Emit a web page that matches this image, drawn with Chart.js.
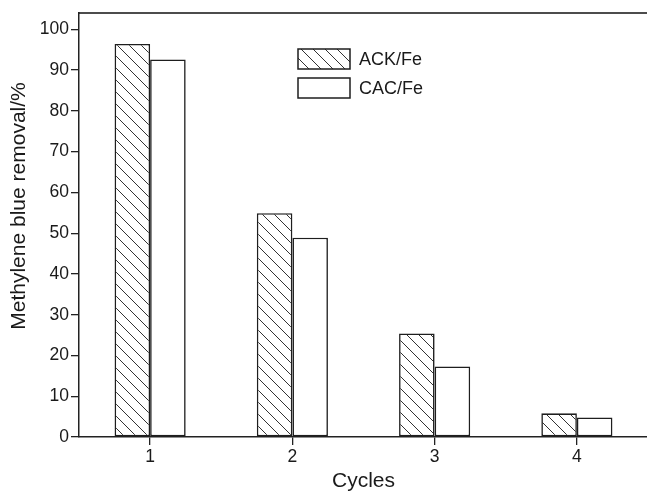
<!DOCTYPE html>
<html>
<head>
<meta charset="utf-8">
<script src="https://cdn.jsdelivr.net/npm/chart.js@4.4.0/dist/chart.umd.min.js"></script>
<style>
  html, body { margin: 0; padding: 0; background: #fff; overflow: hidden; }
</style>
</head>
<body>
<canvas id="removalGraph" width="650" height="498"></canvas>
<script>
const cycles = ['1', '2', '3', '4']
const ackFe = [96.4, 54.9, 25.4, 5.8]
const cacFe = [92.6, 48.9, 17.3, 4.8]
const yTicks = [0, 10, 20, 30, 40, 50, 60, 70, 80, 90, 100]
const yTitle = 'Methylene blue removal/%'

const fontFamily = '"Liberation Sans", Arial, sans-serif'

// diagonal hatch (\\\) used for the ACK/Fe bars
function makeHatch() {
    const s = 12
    const tile = document.createElement('canvas')
    tile.width = s
    tile.height = s
    const c = tile.getContext('2d')
    c.fillStyle = '#fff'
    c.fillRect(0, 0, s, s)
    c.strokeStyle = '#333'
    c.lineWidth = 1
    for (const x0 of [-s, 0, s]) {
        c.beginPath()
        c.moveTo(x0 - 1, -1)
        c.lineTo(x0 + s + 1, s + 1)
        c.stroke()
    }
    return c.createPattern(tile, 'repeat')
}

// top edge of the frame
const frame = {
    id: 'frame',
    afterDraw(chart) {
        const { ctx, chartArea } = chart
        ctx.save()
        ctx.strokeStyle = '#111'
        ctx.lineWidth = 1.6
        ctx.beginPath()
        ctx.moveTo(chartArea.left, chartArea.top)
        ctx.lineTo(chartArea.right + 2, chartArea.top)
        ctx.stroke()
        ctx.restore()
    }
}

// y axis title, sitting a little above the middle of the axis
const sideTitle = {
    id: 'sideTitle',
    afterDraw(chart) {
        const ctx = chart.ctx
        ctx.save()
        ctx.translate(19, 206)
        ctx.rotate(-Math.PI / 2)
        ctx.fillStyle = '#1a1a1a'
        ctx.font = '21px ' + fontFamily
        ctx.textAlign = 'center'
        ctx.textBaseline = 'middle'
        ctx.fillText(yTitle, 0, 0)
        ctx.restore()
    }
}

// legend drawn as a vertical list inside the plot
const legendBoxes = {
    id: 'legendBoxes',
    afterDraw(chart) {
        const ctx = chart.ctx
        chart.data.datasets.forEach((ds, i) => {
            const x = 298
            const y = 49 + i * 29
            ctx.save()
            ctx.fillStyle = ds.backgroundColor
            ctx.fillRect(x, y, 52, 20)
            ctx.lineWidth = 1.5
            ctx.strokeStyle = ds.borderColor
            ctx.strokeRect(x, y, 52, 20)
            ctx.fillStyle = '#1a1a1a'
            ctx.font = '18px ' + fontFamily
            ctx.textBaseline = 'middle'
            ctx.fillText(ds.label, x + 61, y + 11)
            ctx.restore()
        })
    }
}

const removalChart = new Chart(
    document.getElementById('removalGraph'),
    {
        type: 'bar',
        data: {
            labels: cycles,
            datasets: [
                {
                    label: 'ACK/Fe',
                    data: ackFe,
                    backgroundColor: makeHatch(),
                    borderColor: '#1e1e1e',
                    borderWidth: 1.6,
                    borderSkipped: false,
                },
                {
                    label: 'CAC/Fe',
                    data: cacFe,
                    backgroundColor: '#fff',
                    borderColor: '#1e1e1e',
                    borderWidth: 1.6,
                    borderSkipped: false,
                },
            ],
        },
        options: {
            responsive: false,
            animation: false,
            layout: {
                padding: { top: 13, right: 2, left: 0, bottom: 0 }
            },
            categoryPercentage: 0.5,
            barPercentage: 1,
            scales: {
                x: {
                    grid: {
                        offset: false,
                        drawOnChartArea: false,
                        tickLength: 8,
                        color: '#222',
                        lineWidth: 1.3,
                    },
                    border: { color: '#222', width: 1.5 },
                    ticks: {
                        color: '#1a1a1a',
                        padding: 2,
                        font: { family: fontFamily, size: 17.5 },
                    },
                    title: {
                        display: true,
                        text: 'Cycles',
                        color: '#1a1a1a',
                        padding: { top: 0, bottom: 4 },
                        font: { family: fontFamily, size: 21 },
                    },
                    afterFit(scale) { scale.height = 61 },
                },
                y: {
                    min: 0,
                    max: 104,
                    afterBuildTicks(scale) {
                        scale.ticks = yTicks.map(v => ({ value: v }))
                    },
                    grid: {
                        drawOnChartArea: false,
                        tickLength: 8,
                        color: '#222',
                        lineWidth: 1.3,
                    },
                    border: { color: '#222', width: 1.5 },
                    ticks: {
                        color: '#1a1a1a',
                        padding: 2,
                        font: { family: fontFamily, size: 17.5 },
                    },
                    afterFit(scale) { scale.width = 79 },
                },
            },
            plugins: {
                legend: { display: false },
                tooltip: { enabled: false },
            },
        },
        plugins: [frame, sideTitle, legendBoxes],
    }
);
</script>
</body>
</html>
